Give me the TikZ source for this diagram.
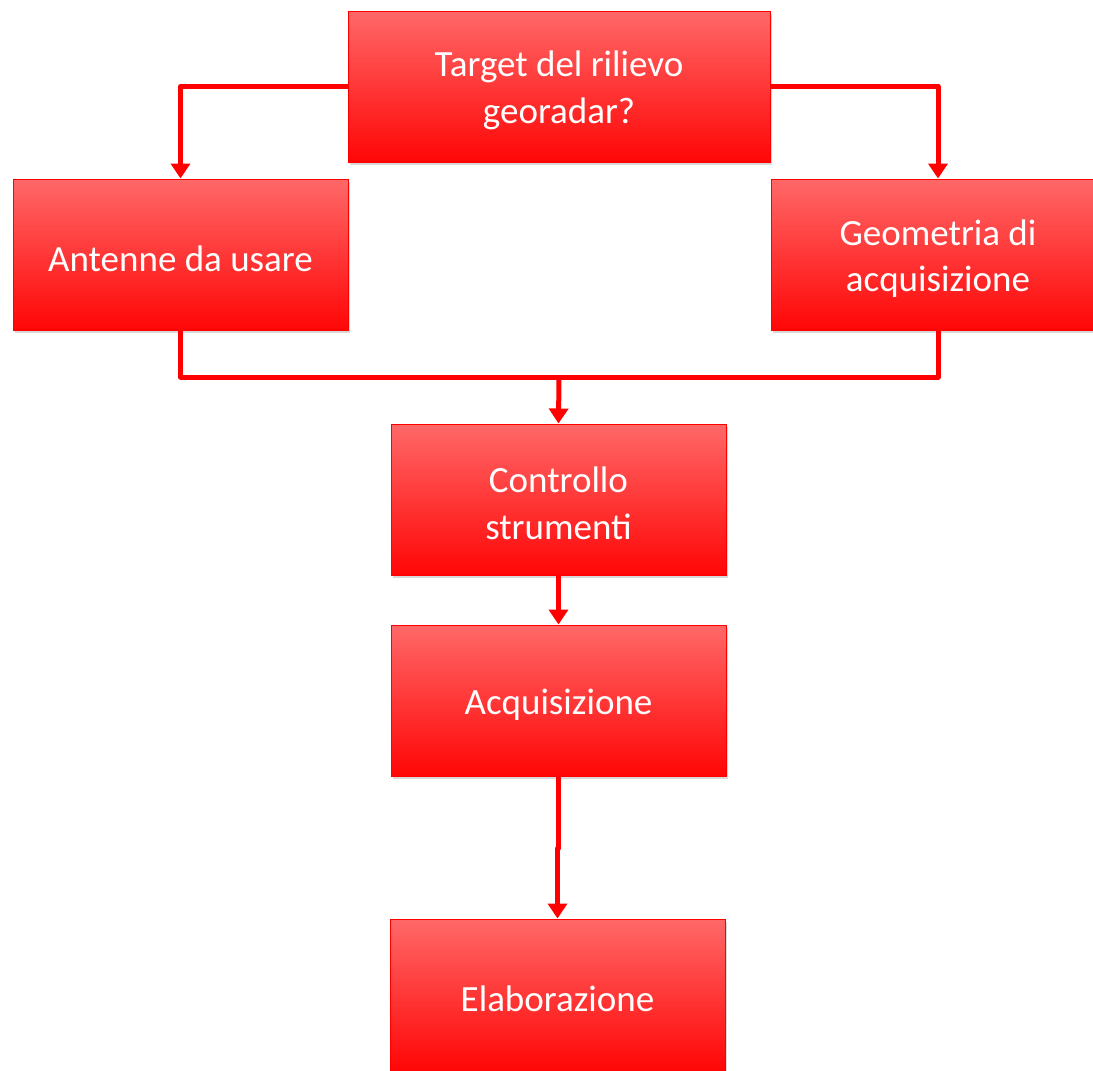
\documentclass[tikz,border=0pt]{standalone}
\usepackage{fontspec}
\setmainfont{Carlito}
\usetikzlibrary{arrows.meta,shadows,positioning}
\definecolor{boxtop}{RGB}{255,104,104}
\definecolor{boxmid}{RGB}{255,78,78}
\definecolor{boxbot}{RGB}{255,6,6}
\definecolor{lred}{RGB}{255,0,0}
\tikzset{
  box/.style={rectangle, draw=lred, line width=1pt, top color=boxtop, middle color=boxmid, bottom color=boxbot,
    inner sep=0pt, minimum height=151pt,
    drop shadow={shadow xshift=2pt, shadow yshift=-3pt, opacity=0.25, fill=black!60}},
  txt/.style={text=white, align=center, inner sep=0pt, font=\fontsize{37}{46.5}\selectfont},
  conn/.style={draw=lred, line width=5pt, line join=round},
  arr/.style={conn, -{Triangle[width=19pt,length=15pt]}}
}
\begin{document}
\begin{tikzpicture}[x=1pt,y=1pt]
\clip (0,0) rectangle (1093,-1071);
\fill[white] (0,0) rectangle (1093,-1071);
\node[box, minimum width=422pt] (T) at (559,-86.5) {};
\node[box, minimum width=335pt] (A) at (180.5,-254.5) {};
\node[box, minimum width=334pt] (G) at (938,-254.5) {};
\node[box, minimum width=335pt] (C) at (558.5,-499.5) {};
\node[box, minimum width=335pt] (Q) at (558.5,-700.5) {};
\node[box, minimum width=335pt, minimum height=152pt] (E) at (557.5,-995) {};
\node[txt] (Tt) at ([yshift=-4pt]T.center) {Target del rilievo\\georadar?};
\node[txt] (At) at ([yshift=-4pt]A.center) {Antenne da usare};
\node[txt] (Gt) at ([yshift=-4pt]G.center) {Geometria di\\acquisizione};
\node[txt] (Ct) at ([yshift=-4pt]C.center) {Controllo\\strumenti};
\node[txt] (Qt) at ([yshift=-4pt]Q.center) {Acquisizione};
\node[txt] (Et) at ([yshift=-4pt]E.center) {Elaborazione};
\coordinate (j) at (559,-377);
\coordinate (k) at (559,-848);
\draw[arr] (T.west) -| (A.north);
\draw[arr] (T.east) -| (G.north);
\draw[conn] (A.south) |- (j) -| (G.south);
\draw[arr] (j) -- (C.north);
\draw[arr] (C.south) -- (Q.north);
\draw[arr] (Q.south) -- (Q.south |- k) -| (E.north);
\end{tikzpicture}
\end{document}
